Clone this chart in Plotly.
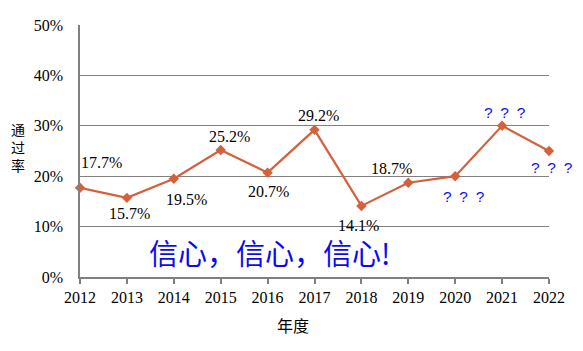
import plotly.graph_objects as go

years = [2012, 2013, 2014, 2015, 2016, 2017, 2018, 2019, 2020, 2021, 2022]
rates = [0.177, 0.157, 0.195, 0.252, 0.207, 0.292, 0.141, 0.187, 0.200, 0.300, 0.250]
Q = "?\u2002?\u2002?"
point_labels = ["17.7%", "15.7%", "19.5%", "25.2%", "20.7%", "29.2%", "14.1%", "18.7%", Q, Q, Q]
y_ticks = [0, 0.1, 0.2, 0.3, 0.4, 0.5]
y_tick_text = ["0%", "10%", "20%", "30%", "40%", "50%"]

# label offsets (pixels) relative to each point
label_dx = [21, 3, 13, 9, 1, 4, -3, -17, 9, 3, 3]
label_dy = [25, -16, -21, 13, -19, 14, -20, 14, -20, 13, -16]

LINE = "#D4603C"
GRID = "#808080"
SERIF = "Liberation Serif"
SANS = "Liberation Sans"
CJK = "Noto Sans CJK SC"

fig = go.Figure()
fig.add_trace(go.Scatter(
    x=years, y=rates, mode="lines+markers",
    line=dict(color=LINE, width=2.2),
    marker=dict(symbol="diamond", size=8, color=LINE),
    cliponaxis=False, showlegend=False, hoverinfo="skip",
))

annotations = []
for x, y, t, dx, dy in zip(years, rates, point_labels, label_dx, label_dy):
    is_q = t.startswith("?")
    annotations.append(dict(
        x=x, y=y, xref="x", yref="y", text=t, showarrow=False,
        xshift=dx, yshift=dy, xanchor="center", yanchor="middle",
        font=dict(family=SANS if is_q else SERIF, size=15.5 if is_q else 16,
                  color="#1010F0" if is_q else "#000000"),
    ))

# vertical y-axis title, one character per line
annotations.append(dict(
    x=-0.132, y=0.516, xref="paper", yref="paper", text="通<br>过<br>率", showarrow=False,
    xanchor="center", yanchor="middle",
    font=dict(family=CJK, size=14, color="#000000"),
))

annotations.append(dict(
    x=0.454, y=-0.19, xref="paper", yref="paper", text="年度", showarrow=False,
    xanchor="center", yanchor="middle",
    font=dict(family=CJK, size=16, color="#000000"),
))

annotations.append(dict(
    x=0.405, y=0.1, xref="paper", yref="paper", text="信心，信心，信心!", showarrow=False,
    xanchor="center", yanchor="middle",
    font=dict(family=CJK, size=29, color="#0B0BF0"),
))

fig.update_layout(
    width=583, height=351,
    margin=dict(l=80, r=34, t=25, b=74),
    paper_bgcolor="white", plot_bgcolor="white",
    annotations=annotations,
    xaxis=dict(
        range=[2012, 2022], tickmode="array", tickvals=years,
        ticktext=[str(y) for y in years],
        showgrid=False, zeroline=False,
        showline=True, linecolor=GRID, linewidth=1.5,
        ticks="outside", ticklen=5, tickcolor=GRID, tickwidth=1.5,
        tickfont=dict(family=SERIF, size=16, color="#000000"),
    ),
    yaxis=dict(
        range=[0, 0.5], tickmode="array", tickvals=y_ticks, ticktext=y_tick_text,
        showgrid=True, gridcolor=GRID, gridwidth=1.2, zeroline=False,
        showline=True, linecolor=GRID, linewidth=1.5,
        ticks="", ticklabelstandoff=12,
        tickfont=dict(family=SERIF, size=16, color="#000000"),
    ),
)

fig.write_html("out.html")
